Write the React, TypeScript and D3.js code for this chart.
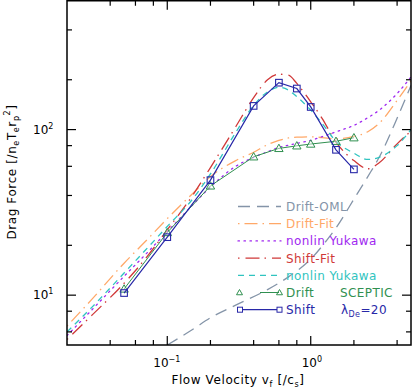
import * as d3 from "d3";

// flow velocity grid used for the fitted curves
const fitX = [0.02, 0.03, 0.05, 0.07, 0.1, 0.15, 0.2, 0.3, 0.4, 0.5, 0.6, 0.7, 0.8, 1.0, 1.2, 1.5, 2, 2.5, 3, 4, 5];
const driftFit = [6.5, 9.5, 15.6, 21, 29, 41, 52, 65, 73, 81, 86, 89, 90, 90.5, 89.5, 88, 91, 97, 109, 150, 197];
const yukawaDrift = [5.7, 8.2, 13, 17.5, 24.2, 35, 45, 60, 68, 73.5, 78, 80.5, 82.6, 86, 90.6, 97, 106, 118, 131, 165, 208];
const shiftFit = [5.4, 7.6, 11.8, 16.5, 24.8, 40, 59, 104, 156, 200, 216, 213, 190, 147, 117, 84, 65, 58, 63, 82, 98];
const yukawaShift = [6.0, 8.5, 13.6, 18.6, 26, 38, 54, 96, 140, 169, 180, 173, 158, 131, 109, 85, 72, 66, 68, 80, 100];

const omlX = [0.1, 0.15, 0.2, 0.3, 0.5, 0.7, 1.0, 1.3, 1.5, 2, 2.5, 3, 4, 5];
const driftOML = [5.0, 6.2, 7.3, 8.7, 10.8, 12.9, 16.5, 21.6, 25.5, 38, 52, 68, 117, 185];

// SCEPTIC runs
const scepticX = [0.05, 0.1, 0.2, 0.4, 0.6, 0.8, 1.0, 1.5, 2.0];
const scepticDrift = [10.9, 23.9, 45.7, 68.5, 77, 79.8, 81.8, 85, 89.3];
const scepticShift = [10.3, 22.4, 49.5, 139, 192, 177, 137, 75.5, 57.5];

const xMajor = [0.1, 1];
const xMinor = [0.04, 0.06, 0.08, 0.2, 0.4, 0.6, 0.8, 2, 4];
const yMajor = [10, 100];
const yMinor = [6, 8, 20, 40, 60, 80, 200, 400];

const W = 412, H = 388;
const left = 67, right = 411, top = 0.75, bottom = 345;

const x = d3.scaleLog().domain([0.02, 5]).range([left, right]);
const y = d3.scaleLog().domain([5, 600]).range([bottom, top]);

const FONT = "'DejaVu Sans', sans-serif";

const fits = [
  { name: "Drift-OML", xs: omlX, ys: driftOML, color: "#8494a8", dash: "12,7" },
  { name: "Drift-Fit", xs: fitX, ys: driftFit, color: "#ffa868", dash: "1.5,5,13,5" },
  { name: "nonlin Yukawa", xs: fitX, ys: yukawaDrift, color: "#a028f0", dash: "1.5,4.5" },
  { name: "Shift-Fit", xs: fitX, ys: shiftFit, color: "#d03838", dash: "1.5,6,14,5" },
  { name: "nonlin Yukawa", xs: fitX, ys: yukawaShift, color: "#30c4c0", dash: "6,5" },
];

const line = d3
  .line<[number, number]>()
  .x((d) => x(d[0]))
  .y((d) => y(d[1]))
  .curve(d3.curveMonotoneX);

const straight = d3
  .line<[number, number]>()
  .x((d) => x(d[0]))
  .y((d) => y(d[1]));

const triPath = (cx: number, cy: number, s = 4.2) =>
  `M${cx},${cy - s}L${cx + s},${cy + s * 0.75}L${cx - s},${cy + s * 0.75}Z`;

const Sup = ({ t }: { t: string }) => (
  <tspan dy={-5} fontSize={8}>{t}</tspan>
);

export default function App() {
  const green = "#309050";
  const navy = "#2828a8";
  const legY0 = 206.5, legDy = 17.2;

  return (
    <div style={{ position: "absolute", left: 0, top: 0 }}>
      <svg width={W} height={H} style={{ display: "block", background: "#fff" }}>
        <defs>
          <clipPath id="plot">
            <rect x={left} y={top} width={right - left} height={bottom - top} />
          </clipPath>
        </defs>

        <g clipPath="url(#plot)">
          {fits.map((f, i) => (
            <path
              key={i}
              d={line(f.xs.map((v, j) => [v, f.ys[j]] as [number, number])) || ""}
              fill="none"
              stroke={f.color}
              strokeWidth={1.3}
              strokeDasharray={f.dash}
              strokeLinecap={i === 2 ? "round" : "butt"}
            />
          ))}

          {/* SCEPTIC drift */}
          <path
            d={straight(scepticX.map((v, j) => [v, scepticDrift[j]] as [number, number])) || ""}
            fill="none"
            stroke={green}
            strokeWidth={1}
          />
          {scepticX.map((v, j) => (
            <path key={"t" + j} d={triPath(x(v), y(scepticDrift[j]))} fill="#fff" fillOpacity={0.4} stroke={green} strokeWidth={1} />
          ))}

          {/* SCEPTIC shift */}
          <path
            d={straight(scepticX.map((v, j) => [v, scepticShift[j]] as [number, number])) || ""}
            fill="none"
            stroke={navy}
            strokeWidth={1.2}
          />
          {scepticX.map((v, j) => (
            <rect key={"s" + j} x={x(v) - 3.3} y={y(scepticShift[j]) - 3.3} width={6.6} height={6.6} fill="none" stroke={navy} strokeWidth={1.1} />
          ))}
        </g>

        {/* frame */}
        <rect x={left} y={top} width={right - left} height={bottom - top} fill="none" stroke="#000" strokeWidth={1.5} />

        {/* ticks */}
        <g stroke="#000" strokeWidth={1.2}>
          {xMajor.map((v) => (
            <g key={"xm" + v}>
              <line x1={x(v)} x2={x(v)} y1={bottom} y2={bottom - 9} />
              <line x1={x(v)} x2={x(v)} y1={top} y2={top + 9} />
            </g>
          ))}
          {xMinor.map((v) => (
            <g key={"xn" + v}>
              <line x1={x(v)} x2={x(v)} y1={bottom} y2={bottom - 5} />
              <line x1={x(v)} x2={x(v)} y1={top} y2={top + 5} />
            </g>
          ))}
          {yMajor.map((v) => (
            <g key={"ym" + v}>
              <line x1={left} x2={left + 9} y1={y(v)} y2={y(v)} />
              <line x1={right} x2={right - 9} y1={y(v)} y2={y(v)} />
            </g>
          ))}
          {yMinor.map((v) => (
            <g key={"yn" + v}>
              <line x1={left} x2={left + 5} y1={y(v)} y2={y(v)} />
              <line x1={right} x2={right - 5} y1={y(v)} y2={y(v)} />
            </g>
          ))}
        </g>

        {/* tick labels */}
        <g fontFamily={FONT} fontSize={12} fill="#000">
          <text x={x(0.1) - 14} y={367}>10<Sup t="−1" /></text>
          <text x={x(1) - 9} y={367}>10<Sup t="0" /></text>
          <text x={33} y={y(10) + 4}>10<Sup t="1" /></text>
          <text x={33} y={y(100) + 4}>10<Sup t="2" /></text>
        </g>

        {/* axis titles */}
        <text x={238} y={384} fontFamily={FONT} fontSize={12} letterSpacing={0.6} textAnchor="middle">
          Flow Velocity v<tspan dy={3} fontSize={8}>f</tspan>
          <tspan dy={-3}> [/c</tspan><tspan dy={3} fontSize={8}>s</tspan><tspan dy={-3}>]</tspan>
        </text>
        <text
          transform={`translate(16,172) rotate(-90)`}
          fontFamily={FONT}
          fontSize={12}
          letterSpacing={0.6}
          textAnchor="middle"
        >
          Drag Force [/n<tspan dy={3} fontSize={8}>e</tspan>
          <tspan dy={-3}>T</tspan><tspan dy={3} fontSize={8}>e</tspan>
          <tspan dy={-3}>r</tspan><tspan dy={3} fontSize={8}>p</tspan>
          <tspan dy={-9} fontSize={8}>2</tspan><tspan dy={6}>]</tspan>
        </text>

        {/* legend */}
        <g fontFamily={FONT} fontSize={12} letterSpacing={0.4}>
          {fits.map((f, i) => {
            const ly = legY0 + i * legDy;
            return (
              <g key={"l" + i}>
                <line x1={238} x2={281} y1={ly} y2={ly} stroke={f.color} strokeWidth={1.3} strokeDasharray={f.dash} strokeLinecap={i === 2 ? "round" : "butt"} />
                <text x={286} y={ly + 4.5} fill={f.color}>{f.name}</text>
              </g>
            );
          })}
          <g>
            <line x1={260} x2={279} y1={legY0 + 5 * legDy} y2={legY0 + 5 * legDy} stroke={green} strokeWidth={1} />
            <path d={triPath(239.5, legY0 + 5 * legDy, 3)} fill="none" stroke={green} />
            <path d={triPath(279.5, legY0 + 5 * legDy, 3)} fill="none" stroke={green} />
            <text x={286} y={legY0 + 5 * legDy + 4.5} fill={green}>Drift</text>
            <text x={340} y={legY0 + 5 * legDy + 4.5} fill={green}>SCEPTIC</text>
          </g>
          <g>
            <line x1={240} x2={279} y1={legY0 + 6 * legDy} y2={legY0 + 6 * legDy} stroke={navy} strokeWidth={1.2} />
            <rect x={237.5} y={legY0 + 6 * legDy - 2.5} width={5} height={5} fill="#fff" stroke={navy} />
            <rect x={277} y={legY0 + 6 * legDy - 2.5} width={5} height={5} fill="#fff" stroke={navy} />
            <text x={286} y={legY0 + 6 * legDy + 4.5} fill={navy}>Shift</text>
            <text x={341} y={legY0 + 6 * legDy + 4.5} fill={navy}>
              λ<tspan dy={3} fontSize={8}>De</tspan><tspan dy={-3}>=20</tspan>
            </text>
          </g>
        </g>
      </svg>
    </div>
  );
}
